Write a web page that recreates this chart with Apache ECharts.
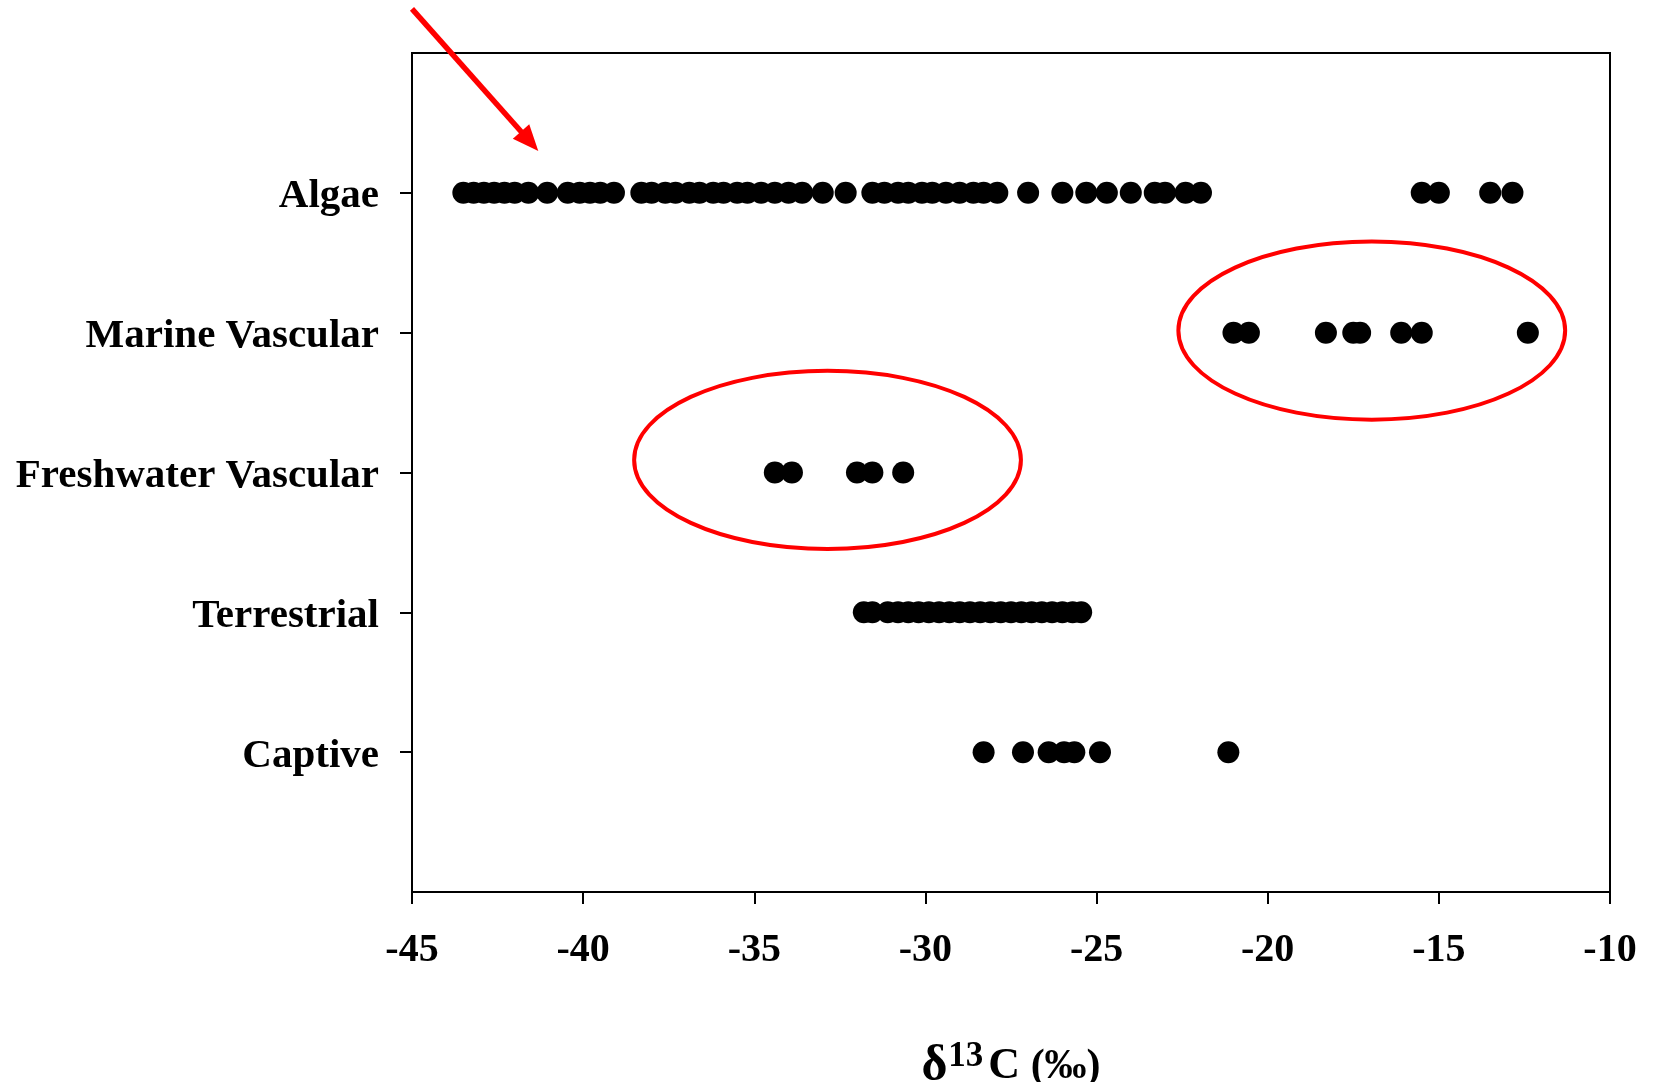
<!DOCTYPE html>
<html>
<head>
    <meta charset="utf-8">
    <title>d13C by source</title>
    <script src="https://cdn.jsdelivr.net/npm/echarts@6/dist/echarts.min.js"></script>
    <style>
        html, body {margin: 0; padding: 0; background: #fff;}
        #chart {width: 1656px; height: 1082px;}
    </style>
</head>
<body>
    <div id="chart"></div>
    <script type="text/javascript">
        // rows, top to bottom
        var categories = ['Algae', 'Marine Vascular', 'Freshwater Vascular', 'Terrestrial', 'Captive'];
        var xTicks = [-45, -40, -35, -30, -25, -20, -15, -10];

        // d13C values (per mil)
        var algae = [-43.5, -43.2, -42.9, -42.6, -42.3, -42.0, -41.6, -41.05,
            -40.45, -40.1, -39.8, -39.5, -39.1,
            -38.3, -38.0, -37.6, -37.3, -36.9, -36.6, -36.2, -35.9, -35.5, -35.2, -34.8, -34.4, -34.0, -33.6,
            -33.0, -32.33,
            -31.55, -31.2, -30.8, -30.5, -30.1, -29.8, -29.4, -29.0, -28.6, -28.3, -27.9,
            -27.0, -26.0, -25.3, -24.7, -24.0, -23.3, -23.0, -22.4, -21.95,
            -15.5, -15.0, -13.5, -12.85];
        var marineVascular = [-21.0, -20.55, -18.3, -17.5, -17.3, -16.1, -15.5, -12.4];
        var freshwaterVascular = [-34.4, -33.9, -32.0, -31.55, -30.65];
        var terrestrial = [-31.8, -31.55, -31.1, -30.8, -30.5, -30.2, -29.9, -29.6, -29.3, -29.0, -28.7,
            -28.4, -28.1, -27.8, -27.5, -27.2, -26.9, -26.6, -26.3, -26.0, -25.7, -25.45];
        var captive = [-28.3, -27.15, -26.4, -25.95, -25.65, -24.9, -21.15];

        var rows = [algae, marineVascular, freshwaterVascular, terrestrial, captive];

        // red annotations: ellipses in data units (x in per mil, y in rows)
        var rings = [
            {cx: -16.96, row: 'Marine Vascular', dy: -0.015, rx: 5.65, ry: 0.637},
            {cx: -32.86, row: 'Freshwater Vascular', dy: -0.09, rx: 5.65, ry: 0.637}
        ];
        var arrow = {from: [-45, 'Algae', -1.315], to: [-41.31, 'Algae', -0.30]};

        var serif = "'Liberation Serif', 'Times New Roman', serif";
        var yCats = [''].concat(categories, [' ']);

        var points = [];
        rows.forEach(function (vals, i) {
            vals.forEach(function (v) { points.push([v, categories[i]]); });
        });

        var myChart = echarts.init(document.getElementById('chart'));
        var option = {
            animation: false,
            backgroundColor: '#fff',
            grid: {
                left: 412, right: 46, top: 53, bottom: 190,
                show: true, borderColor: '#000', borderWidth: 2,
                outerBoundsMode: 'none'
            },
            xAxis: {
                type: 'value',
                min: xTicks[0], max: xTicks[xTicks.length - 1], interval: 5,
                splitLine: {show: false},
                axisLine: {onZero: false, lineStyle: {color: '#000', width: 2}},
                axisTick: {show: true, length: 12, lineStyle: {color: '#000', width: 2}},
                axisLabel: {
                    margin: 39, color: '#000', fontFamily: serif, fontWeight: 'bold', fontSize: 40,
                    showMinLabel: true, showMaxLabel: true
                },
                name: '{d|δ}{s|13}{c|C}{p| (‰)}',
                nameLocation: 'middle',
                nameGap: 147,
                nameTextStyle: {
                    color: '#000', fontFamily: serif, fontWeight: 'bold',
                    rich: {
                        d: {fontFamily: serif, fontWeight: 'bold', fontSize: 50, lineHeight: 56, verticalAlign: 'middle', color: '#000'},
                        s: {fontFamily: serif, fontWeight: 'bold', fontSize: 35, lineHeight: 26, verticalAlign: 'top', color: '#000', padding: [0, 5, 0, 1]},
                        c: {fontFamily: serif, fontWeight: 'bold', fontSize: 44, lineHeight: 56, verticalAlign: 'middle', color: '#000'},
                        p: {fontFamily: serif, fontWeight: 'bold', fontSize: 42, lineHeight: 56, verticalAlign: 'middle', color: '#000'}
                    }
                }
            },
            yAxis: {
                type: 'category',
                data: yCats,
                inverse: true,
                boundaryGap: false,
                splitLine: {show: false},
                axisLine: {lineStyle: {color: '#000', width: 2}},
                axisTick: {
                    show: true, length: 12, lineStyle: {color: '#000', width: 2},
                    interval: function (i, v) { return String(v).trim() !== ''; }
                },
                axisLabel: {
                    margin: 33, color: '#000', interval: 0,
                    formatter: function (v) { return String(v).trim() === '' ? '' : '{t|' + v + '}'; },
                    rich: {
                        t: {fontFamily: serif, fontWeight: 'bold', fontSize: 41, lineHeight: 41, padding: [8, 0, 0, 0], color: '#000'}
                    }
                }
            },
            series: [{
                type: 'scatter',
                symbol: 'circle',
                symbolSize: 22,
                itemStyle: {color: '#000', opacity: 1},
                data: points
            }]
        };
        myChart.setOption(option);

        // place the red annotations from data coordinates
        function rowPx(name, dy) {
            var i = yCats.indexOf(name);
            var a = myChart.convertToPixel({gridIndex: 0}, [0, yCats[i]])[1];
            var b = myChart.convertToPixel({gridIndex: 0}, [0, yCats[i + 1]])[1];
            return a + (b - a) * dy;
        }
        function xPx(v) {
            return myChart.convertToPixel({gridIndex: 0}, [v, categories[0]])[0];
        }
        var unitX = xPx(1) - xPx(0);
        var unitY = rowPx(categories[1], 0) - rowPx(categories[0], 0);

        var graphics = rings.map(function (r) {
            return {
                type: 'ellipse',
                shape: {cx: xPx(r.cx), cy: rowPx(r.row, r.dy), rx: r.rx * unitX, ry: r.ry * unitY},
                style: {fill: null, stroke: '#ff0000', lineWidth: 4},
                z: 100
            };
        });

        var x1 = xPx(arrow.from[0]), y1 = rowPx(arrow.from[1], arrow.from[2]);
        var x2 = xPx(arrow.to[0]), y2 = rowPx(arrow.to[1], arrow.to[2]);
        var len = Math.sqrt((x2 - x1) * (x2 - x1) + (y2 - y1) * (y2 - y1));
        var ux = (x2 - x1) / len, uy = (y2 - y1) / len;
        var head = 26, half = 11;
        var bx = x2 - ux * head, by = y2 - uy * head;
        graphics.push({
            type: 'line',
            shape: {x1: x1, y1: y1, x2: bx + ux * 2, y2: by + uy * 2},
            style: {stroke: '#ff0000', lineWidth: 5.5},
            z: 100
        });
        graphics.push({
            type: 'polygon',
            shape: {points: [[x2, y2], [bx - uy * half, by + ux * half], [bx + uy * half, by - ux * half]]},
            style: {fill: '#ff0000'},
            z: 100
        });

        myChart.setOption({graphic: graphics});
    </script>
</body>
</html>
